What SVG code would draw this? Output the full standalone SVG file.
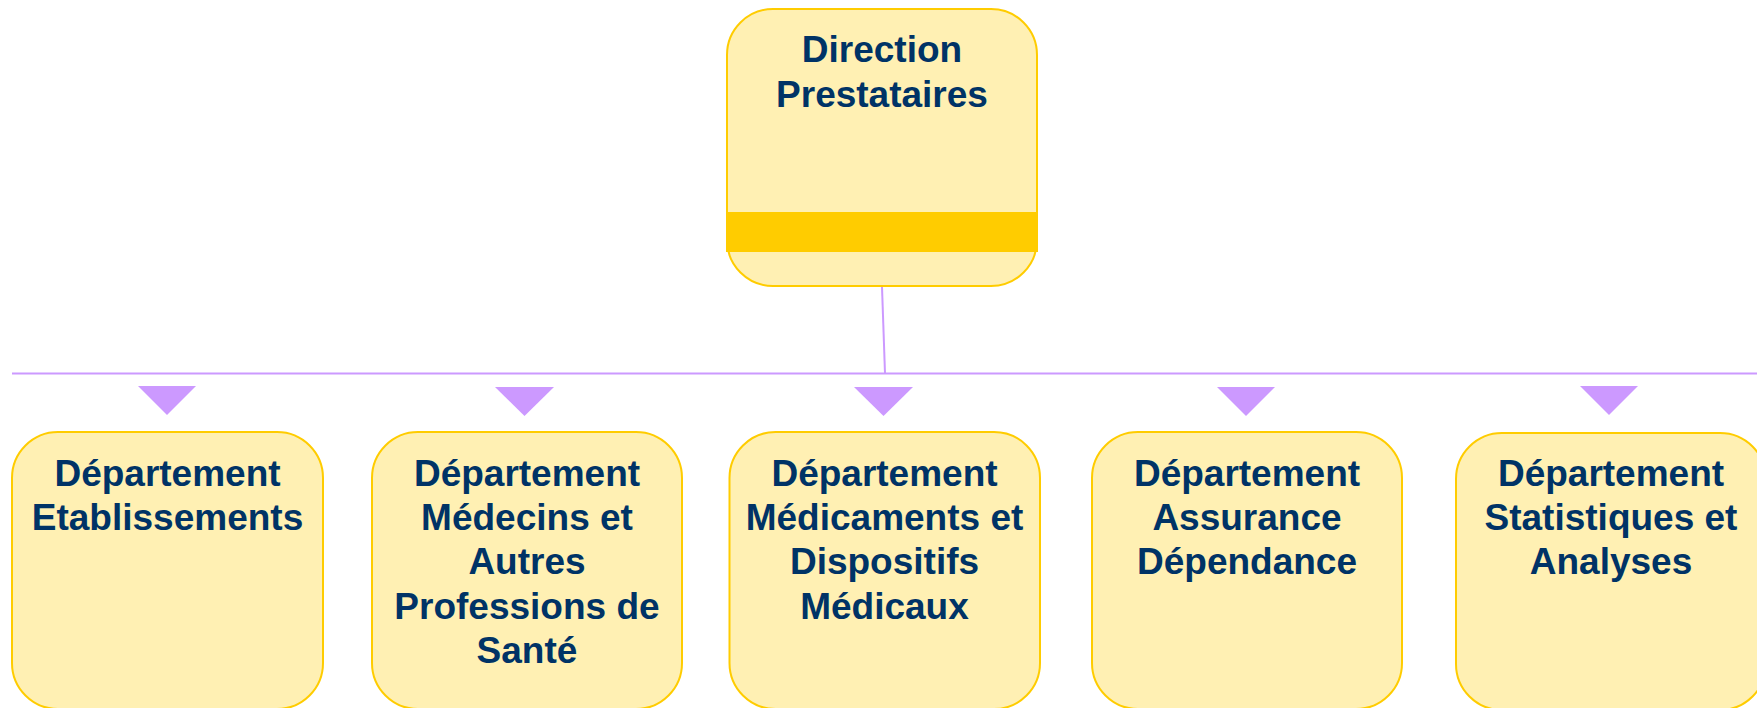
<svg xmlns="http://www.w3.org/2000/svg" width="1757" height="708" viewBox="0 0 1757 708">
  <style>
    .box { fill: #FFF0B3; stroke: #FFCC00; stroke-width: 2; }
    .band { fill: #FFCC00; }
    .lbl { font-family: "Liberation Sans", Arial, sans-serif; font-weight: bold; font-size: 37px; fill: #003366; text-anchor: middle; }
    .conn { stroke: #CC99FF; stroke-width: 2; fill: none; }
    .tri { fill: #CC99FF; }
  </style>
  <rect width="1757" height="708" fill="#FFFFFF"/>
  <g id="connectors">
    <line class="conn" x1="882" y1="287" x2="885" y2="373.5"/>
    <line class="conn" x1="12" y1="373.5" x2="1757" y2="373.5"/>
    <polygon class="tri" points="138,386 196,386 167,415"/>
    <polygon class="tri" points="495,387 554,387 524.5,416"/>
    <polygon class="tri" points="854,387 913,387 883.5,416"/>
    <polygon class="tri" points="1217,387 1275,387 1246,416"/>
    <polygon class="tri" points="1580,386 1638,386 1609,415"/>
  </g>
  <g id="node-direction">
    <rect class="box" x="727" y="9" width="310" height="277" rx="46" ry="46"/>
    <rect class="band" x="726" y="212" width="312" height="40"/>
    <text class="lbl" x="882" y="62">Direction</text>
    <text class="lbl" x="882" y="107">Prestataires</text>
  </g>
  <g id="node-etablissements">
    <rect class="box" x="12" y="432" width="311" height="277" rx="46" ry="46"/>
    <text class="lbl" x="167.5" y="486">Département</text>
    <text class="lbl" x="167.5" y="530">Etablissements</text>
  </g>
  <g id="node-medecins">
    <rect class="box" x="372" y="432" width="310" height="277" rx="46" ry="46"/>
    <text class="lbl" x="527" y="486">Département</text>
    <text class="lbl" x="527" y="530">Médecins et</text>
    <text class="lbl" x="527" y="574">Autres</text>
    <text class="lbl" x="527" y="619">Professions de</text>
    <text class="lbl" x="527" y="663">Santé</text>
  </g>
  <g id="node-medicaments">
    <rect class="box" x="729.5" y="432" width="310.5" height="277" rx="46" ry="46"/>
    <text class="lbl" x="884.5" y="486">Département</text>
    <text class="lbl" x="884.5" y="530">Médicaments et</text>
    <text class="lbl" x="884.5" y="574">Dispositifs</text>
    <text class="lbl" x="884.5" y="619">Médicaux</text>
  </g>
  <g id="node-assurance">
    <rect class="box" x="1092" y="432" width="310" height="277" rx="46" ry="46"/>
    <text class="lbl" x="1247" y="486">Département</text>
    <text class="lbl" x="1247" y="530">Assurance</text>
    <text class="lbl" x="1247" y="574">Dépendance</text>
  </g>
  <g id="node-statistiques">
    <rect class="box" x="1456" y="433" width="310" height="277" rx="46" ry="46"/>
    <text class="lbl" x="1611" y="486">Département</text>
    <text class="lbl" x="1611" y="530">Statistiques et</text>
    <text class="lbl" x="1611" y="574">Analyses</text>
  </g>
</svg>
